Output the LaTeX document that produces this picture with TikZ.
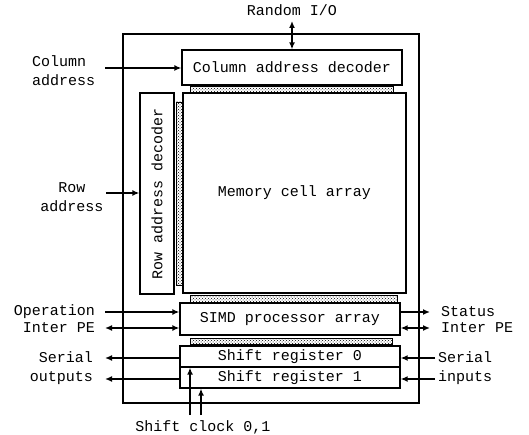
\documentclass[tikz,border=0pt]{standalone}
\usepackage{fontspec}
\newfontfamily\chipfont{Liberation Mono}
\usetikzlibrary{arrows.meta,patterns}

\begin{document}
\begin{tikzpicture}[
    x=1pt, y=-1pt,
    every node/.style={font=\chipfont\fontsize{15}{19}\selectfont, inner sep=0pt},
    block/.style={draw, line width=1.3pt, rectangle, align=center},
    strip/.style={draw, line width=0.8pt, rectangle, pattern=crosshatch dots},
    label/.style={align=center},
    arrow/.style={-{Latex[length=7pt,width=6pt]}, line width=1.4pt},
    both/.style={{Latex[length=7pt,width=6pt]}-{Latex[length=7pt,width=6pt]}, line width=1.4pt}
]
\useasboundingbox (0,0) rectangle (529,435);

% Define the chip and its blocks
\node[block, line width=1.5pt, minimum width=296pt, minimum height=369pt] (chip) at (271,218.5) {};
\node[block, minimum width=220pt, minimum height=35pt] (coldec) at (292,67.5) {Column address decoder};
\node[strip, minimum width=203pt, minimum height=7pt] (colstrip) at (291.5,89.5) {};
\node[block, minimum width=34pt, minimum height=201pt] (rowdec) at (157,193.5) {\rotatebox{90}{Row address decoder}};
\node[strip, minimum width=6pt, minimum height=183pt] (rowstrip) at (179,193.5) {};
\node[block, minimum width=223pt, minimum height=200pt] (mem) at (294.5,193) {Memory cell array};
\node[strip, minimum width=207pt, minimum height=7pt] (memstrip) at (293.5,298.5) {};
\node[block, minimum width=220pt, minimum height=32pt] (simd) at (290,319) {SIMD processor array};
\node[strip, minimum width=202pt, minimum height=6pt] (simdstrip) at (291,341) {};
\node[block, minimum width=220pt, minimum height=21pt] (sr0) at (290,356.5) {Shift register 0};
\node[block, minimum width=220pt, minimum height=21pt] (sr1) at (290,377.5) {Shift register 1};

% Labels outside the chip
\node[label] (rio) at (292,10) {Random I/O};
\node[label, align=left, anchor=west] (coladdr) at (32,71) {Column\\address};
\node[label] (rowaddr) at (72,197) {Row\\address};
\node[label, anchor=east] (op) at (95,312) {Operation};
\node[label, anchor=east] (pel) at (95,328) {Inter PE};
\node[label, anchor=west] (stat) at (441,312) {Status};
\node[label, anchor=west] (per) at (441,328) {Inter PE};
\node[label, align=right, anchor=east] (sout) at (93,368) {Serial\\outputs};
\node[label, align=left, anchor=west] (sin) at (438,368) {Serial\\inputs};
\node[label] (clk) at (203,427) {Shift clock 0,1};

% Free ends of the connectors
\coordinate (ca) at (105,68);
\coordinate (ra) at (106,193);
\coordinate (opin) at (105,312);
\coordinate (pein) at (105,328);
\coordinate (statout) at (430,312);
\coordinate (peout) at (430,328);
\coordinate (so0) at (105,358);
\coordinate (so1) at (105,379);
\coordinate (si0) at (435,358);
\coordinate (si1) at (435,379);
\coordinate (ck0) at (190,415);
\coordinate (ck1) at (201,415);

% Draw arrows
\draw[both] (rio.south |- 0,21) -- (coldec.north);
\draw[arrow] (ca) -- (ca -| coldec.west);
\draw[arrow] (ra) -- (ra -| rowdec.west);
\draw[arrow] (opin) -- (opin -| simd.west);
\draw[both] (pein) -- (pein -| simd.west);
\draw[arrow] (statout -| simd.east) -- (statout);
\draw[both] (peout -| simd.east) -- (peout);
\draw[arrow] (so0 -| sr0.west) -- (so0);
\draw[arrow] (so1 -| sr1.west) -- (so1);
\draw[arrow] (si0) -- (si0 -| sr0.east);
\draw[arrow] (si1) -- (si1 -| sr1.east);
\draw[arrow] (ck0) -- (ck0 |- sr0.south);
\draw[arrow] (ck1) -- (ck1 |- sr1.south);

\end{tikzpicture}
\end{document}
